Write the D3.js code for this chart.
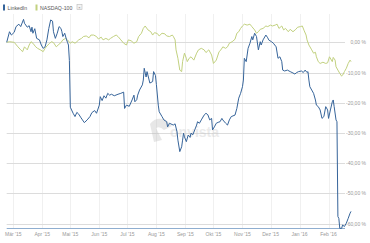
<!DOCTYPE html>
<html>
<head>
<meta charset="utf-8">
<script src="https://cdn.jsdelivr.net/npm/d3@7/dist/d3.min.js"></script>
<style>
body { margin:0; background:#fff; }
text { font-family: "Liberation Sans", Arial, sans-serif; }
</style>
</head>
<body>
<div id="chart"></div>
<script>
// LinkedIn vs NASDAQ-100, Veraenderung in %
var liDates = ["2015-02-22","2015-02-25","2015-02-27","2015-03-02","2015-03-04","2015-03-07","2015-03-09","2015-03-12","2015-03-13","2015-03-16",
 "2015-03-18","2015-03-20","2015-03-21","2015-03-22","2015-03-24","2015-03-26","2015-03-29","2015-03-31","2015-04-02","2015-04-04",
 "2015-04-06","2015-04-08","2015-04-10","2015-04-12","2015-04-13","2015-04-15","2015-04-17","2015-04-19","2015-04-21","2015-04-22",
 "2015-04-23","2015-04-25","2015-04-27","2015-04-28","2015-04-29","2015-04-30","2015-05-01","2015-05-04","2015-05-06","2015-05-08",
 "2015-05-10","2015-05-12","2015-05-14","2015-05-16","2015-05-19","2015-05-22","2015-05-24","2015-05-27","2015-05-29","2015-06-01",
 "2015-06-02","2015-06-04","2015-06-06","2015-06-08","2015-06-10","2015-06-12","2015-06-14","2015-06-17","2015-06-21","2015-06-24",
 "2015-06-27","2015-06-28","2015-06-30","2015-07-03","2015-07-06","2015-07-08","2015-07-09","2015-07-11","2015-07-12","2015-07-14",
 "2015-07-17","2015-07-18","2015-07-19","2015-07-21","2015-07-22","2015-07-25","2015-07-28","2015-07-29","2015-07-31","2015-08-01",
 "2015-08-03","2015-08-04","2015-08-07","2015-08-09","2015-08-12","2015-08-13","2015-08-15","2015-08-19","2015-08-21","2015-08-23",
 "2015-08-24","2015-08-26","2015-08-28","2015-08-29","2015-08-30","2015-08-31","2015-09-02","2015-09-04","2015-09-06","2015-09-07",
 "2015-09-09","2015-09-11","2015-09-13","2015-09-14","2015-09-16","2015-09-18","2015-09-21","2015-09-23","2015-09-25","2015-09-27",
 "2015-09-29","2015-09-30","2015-10-02","2015-10-04","2015-10-06","2015-10-08","2015-10-10","2015-10-11","2015-10-14","2015-10-16",
 "2015-10-18","2015-10-20","2015-10-24","2015-10-26","2015-10-28","2015-10-30","2015-11-01","2015-11-02","2015-11-03","2015-11-05",
 "2015-11-07","2015-11-09","2015-11-11","2015-11-12","2015-11-14","2015-11-16","2015-11-18","2015-11-20","2015-11-21","2015-11-23",
 "2015-11-26","2015-11-28","2015-11-29","2015-12-02","2015-12-04","2015-12-07","2015-12-09","2015-12-11","2015-12-13","2015-12-14",
 "2015-12-16","2015-12-19","2015-12-22","2015-12-24","2015-12-27","2015-12-29","2015-12-31","2016-01-03","2016-01-05","2016-01-07",
 "2016-01-09","2016-01-10","2016-01-11","2016-01-12","2016-01-14","2016-01-16","2016-01-18","2016-01-19","2016-01-21","2016-01-23",
 "2016-01-25","2016-01-27","2016-01-29","2016-01-31","2016-02-01","2016-02-03","2016-02-05","2016-02-06","2016-02-07","2016-02-09",
 "2016-02-10","2016-02-11","2016-02-12","2016-02-13","2016-02-15","2016-02-16","2016-02-18","2016-02-20","2016-02-22","2016-02-24",
 "2016-02-25"];
var liValues = [0,3.5,2.4,3.3,5.2,6,5.2,7.6,6.3,5,
 5.5,3.5,5,3,4.5,1.3,0.8,-0.9,-2,-1.5,
 0.8,4.6,7.4,7,3.5,1.3,3,5.2,4.6,3.5,
 1.9,3,0.8,0,-0.9,-6,-21.5,-23.5,-24.6,-23.2,
 -23.8,-24.8,-25.7,-26.6,-25.7,-24.6,-23.3,-22.6,-23.5,-20.8,
 -18,-19.3,-17.7,-18.5,-16.9,-17.5,-17.2,-17.7,-17.2,-16.9,
 -16.5,-21.9,-20.8,-21.2,-19.1,-17.5,-19.7,-19,-17.5,-15.8,
 -14.1,-12.5,-8.6,-11.5,-9.7,-13.5,-13,-9.7,-11,-14,
 -20.8,-23,-24.6,-25.7,-26.3,-28,-26.8,-27.4,-27,-29.6,
 -32.4,-36.2,-34.6,-32.4,-30.1,-31.3,-32.9,-30.7,-31.5,-30.1,
 -30.6,-29,-27.4,-26.3,-26.8,-25.7,-24.1,-23.5,-24,-25.7,
 -25.2,-29,-28,-26.8,-26.5,-26.3,-25.2,-25.7,-26.8,-27.4,
 -25.7,-24.6,-24.1,-21.9,-18.5,-16.9,-14.7,-12.5,-5.3,-6.4,
 -2,-0.3,1.9,0.8,3,1.9,-2.5,0.2,-0.9,0.8,
 2.4,1.5,0.8,0.2,-0.3,-1.5,-5.3,-4.8,-6.4,-9.2,
 -9.5,-9.2,-9.7,-10,-10.5,-10,-9.7,-9.5,-10,-9.2,
 -10,-9.7,-12.5,-14.7,-15.8,-16.9,-19.1,-20.8,-21.3,-22.4,
 -25.2,-24.6,-21.3,-22.4,-25.2,-22.4,-19.7,-19.1,-21.3,-25.7,
 -26.3,-57.7,-58.3,-61.6,-61.6,-60.5,-61,-59.9,-58.3,-56.6,
 -56];

var ndDates = ["2015-02-22","2015-02-25","2015-03-02","2015-03-06","2015-03-09","2015-03-11","2015-03-13","2015-03-16","2015-03-18","2015-03-20",
 "2015-03-22","2015-03-25","2015-03-27","2015-03-30","2015-04-02","2015-04-04","2015-04-06","2015-04-09","2015-04-11","2015-04-13",
 "2015-04-16","2015-04-18","2015-04-21","2015-04-23","2015-04-26","2015-04-28","2015-05-01","2015-05-03","2015-05-06","2015-05-08",
 "2015-05-10","2015-05-13","2015-05-15","2015-05-18","2015-05-21","2015-05-23","2015-05-26","2015-05-29","2015-05-31","2015-06-03",
 "2015-06-05","2015-06-08","2015-06-11","2015-06-13","2015-06-16","2015-06-19","2015-06-21","2015-06-24","2015-06-27","2015-06-30",
 "2015-07-02","2015-07-05","2015-07-08","2015-07-11","2015-07-13","2015-07-16","2015-07-18","2015-07-20","2015-07-23","2015-07-26",
 "2015-07-28","2015-07-30","2015-08-02","2015-08-04","2015-08-07","2015-08-10","2015-08-12","2015-08-15","2015-08-18","2015-08-19",
 "2015-08-21","2015-08-22","2015-08-24","2015-08-26","2015-08-28","2015-08-29","2015-08-31","2015-09-02","2015-09-03","2015-09-05",
 "2015-09-07","2015-09-10","2015-09-13","2015-09-15","2015-09-18","2015-09-21","2015-09-23","2015-09-26","2015-09-29","2015-10-01",
 "2015-10-04","2015-10-07","2015-10-09","2015-10-11","2015-10-14","2015-10-16","2015-10-18","2015-10-21","2015-10-24","2015-10-26",
 "2015-10-28","2015-10-30","2015-11-01","2015-11-03","2015-11-06","2015-11-09","2015-11-11","2015-11-14","2015-11-16","2015-11-18",
 "2015-11-20","2015-11-23","2015-11-26","2015-11-28","2015-12-01","2015-12-03","2015-12-06","2015-12-08","2015-12-10","2015-12-13",
 "2015-12-15","2015-12-17","2015-12-20","2015-12-22","2015-12-25","2015-12-28","2015-12-30","2016-01-02","2016-01-04","2016-01-06",
 "2016-01-08","2016-01-09","2016-01-11","2016-01-14","2016-01-16","2016-01-18","2016-01-19","2016-01-21","2016-01-23","2016-01-26",
 "2016-01-29","2016-01-31","2016-02-02","2016-02-05","2016-02-06","2016-02-08","2016-02-09","2016-02-11","2016-02-13","2016-02-15",
 "2016-02-16","2016-02-18","2016-02-20","2016-02-22","2016-02-24","2016-02-25"];
var ndValues = [0,0.2,0,-1.5,-2.5,-3.1,-1.5,-2.5,-0.9,0.2,
 -0.3,-1.5,-2,-2.5,-3.1,-2,-1.2,-0.3,0.2,-0.1,
 -1.5,-0.9,-0.1,0.8,1.3,0.8,-0.3,0.2,-0.3,0.2,
 0.8,1.3,1.9,2.1,1.5,2.4,2.4,1.9,1.1,1.7,
 0.8,1.3,0.8,1.3,1.9,2.4,1.9,0.8,-0.3,-0.9,
 0.8,0.5,-0.3,0.2,1.9,3,4.6,5.4,4.1,3.5,
 2.4,3.2,2.9,2.1,3,2.8,2.1,1.9,2.4,2,
 0.8,-2.5,-5.3,-9.2,-9.7,-6.4,-3.6,-5.3,-6.4,-5.3,
 -4.8,-5.9,-3.6,-2.5,-2,-2.5,-3.4,-2.5,-4.2,-7,
 -5.9,-3.1,-2.5,-1.5,-2,-1.5,-0.3,0.2,1,3,
 3.5,4.6,5.4,6,5.7,6,5.2,4.1,3,3.5,
 4.3,4.6,5.4,5.2,5.7,5.4,5.7,6,4.6,5.4,
 4.1,4.6,3.5,4.3,3.5,4.3,5,5.2,5.4,3.8,
 2.4,0.8,-0.9,-2.5,-3.6,-3.3,-4.8,-6.4,-7,-6.6,
 -7,-6.8,-4.8,-6.4,-5,-5.9,-8.1,-9.2,-10.3,-11.2,
 -10.9,-9.7,-8.6,-7,-5.9,-6.4];

var tickDates = ["2015-03-01","2015-04-01","2015-05-01","2015-06-01","2015-07-01","2015-08-01","2015-09-01","2015-10-01","2015-11-01","2015-12-01","2016-01-01","2016-02-01"];
var tickLabels = ["Mär '15","Apr '15","Mai '15","Jun '15","Jul '15","Aug '15","Sep '15","Okt '15","Nov '15","Dez '15","Jan '16","Feb '16"];
var yTicks = [0,-10,-20,-30,-40,-50,-60];
var yLabels = ["0,00 %","-10,00 %","-20,00 %","-30,00 %","-40,00 %","-50,00 %","-60,00 %"];

var parse = d3.timeParse("%Y-%m-%d");
var li = liDates.map(function(d, i){ return {date: parse(d), value: liValues[i]}; });
var nd = ndDates.map(function(d, i){ return {date: parse(d), value: ndValues[i]}; });

var width = 370, height = 243;
var svg = d3.select("#chart").append("svg")
  .attr("width", width)
  .attr("height", height);

var x = d3.scaleTime()
  .domain([parse("2015-02-22"), parse("2016-02-25")])
  .range([6.7, 351]);
var y = d3.scaleLinear()
  .domain([0, -60])
  .range([42.3, 223.5]);

// vertical grid
svg.append("g").selectAll("line")
  .data(tickDates)
  .enter().append("line")
  .attr("x1", function(d){ return Math.round(x(parse(d))) + 0.5; })
  .attr("x2", function(d){ return Math.round(x(parse(d))) + 0.5; })
  .attr("y1", 14)
  .attr("y2", 228)
  .attr("stroke", "#f0f0f0")
  .attr("stroke-width", 1);

// horizontal grid
svg.append("g").selectAll("line")
  .data(yTicks)
  .enter().append("line")
  .attr("x1", 6.7)
  .attr("x2", 345)
  .attr("y1", function(d){ return Math.round(y(d)) + 0.5; })
  .attr("y2", function(d){ return Math.round(y(d)) + 0.5; })
  .attr("stroke", "#dcdcdc")
  .attr("stroke-width", 1);

// y labels
svg.append("g").selectAll("text")
  .data(yTicks)
  .enter().append("text")
  .attr("x", 366)
  .attr("y", function(d){ return y(d) + 2; })
  .attr("text-anchor", "end")
  .attr("font-size", 5)
  .attr("fill", "#999")
  .text(function(d, i){ return yLabels[i]; });

// x labels
svg.append("g").selectAll("text")
  .data(tickDates)
  .enter().append("text")
  .attr("x", function(d){ return x(parse(d)); })
  .attr("y", 236)
  .attr("text-anchor", "middle")
  .attr("font-size", 5)
  .attr("fill", "#999")
  .text(function(d, i){ return tickLabels[i]; });

// bottom axis line
svg.append("line")
  .attr("x1", 6.7).attr("x2", 345)
  .attr("y1", 228.5).attr("y2", 228.5)
  .attr("stroke", "#8faed0")
  .attr("stroke-width", 1);

// watermark
var wm = svg.append("g").attr("opacity", 0.35);
wm.append("path")
  .attr("d", "M150,124 Q156,116 166,120 L172,126 L164,130 Q160,126 156,128 L162,140 L154,142 Z")
  .attr("fill", "#bbb");
wm.append("text")
  .attr("x", 170).attr("y", 137)
  .attr("font-size", 14)
  .attr("font-weight", "bold")
  .attr("fill", "#c8c8c8")
  .text("onvista");

var line = d3.line()
  .x(function(d){ return x(d.date); })
  .y(function(d){ return y(d.value); });

svg.append("path")
  .datum(nd)
  .attr("d", line)
  .attr("fill", "none")
  .attr("stroke", "#c2d17f")
  .attr("stroke-width", 1)
  .attr("stroke-linejoin", "round");

svg.append("path")
  .datum(li)
  .attr("d", line)
  .attr("fill", "none")
  .attr("stroke", "#36649a")
  .attr("stroke-width", 1)
  .attr("stroke-linejoin", "round");

// legend
var legend = svg.append("g");
legend.append("rect").attr("x", 3).attr("y", 4.5).attr("width", 2).attr("height", 6).attr("fill", "#36649a");
legend.append("text").attr("x", 7.5).attr("y", 9.6).attr("font-size", 5.2).attr("fill", "#555").text("LinkedIn");
legend.append("rect").attr("x", 35.5).attr("y", 4.5).attr("width", 2).attr("height", 6).attr("fill", "#c2d17f");
legend.append("text").attr("x", 40).attr("y", 9.6).attr("font-size", 5.2).attr("fill", "#555").text("NASDAQ-100");
legend.append("rect").attr("x", 77).attr("y", 4.5).attr("width", 5).attr("height", 5).attr("fill", "#f4f4f4").attr("stroke", "#bbb").attr("stroke-width", 0.6);
legend.append("text").attr("x", 79.5).attr("y", 8.6).attr("font-size", 4).attr("text-anchor", "middle").attr("fill", "#777").text("\u00d7");
</script>
</body>
</html>
